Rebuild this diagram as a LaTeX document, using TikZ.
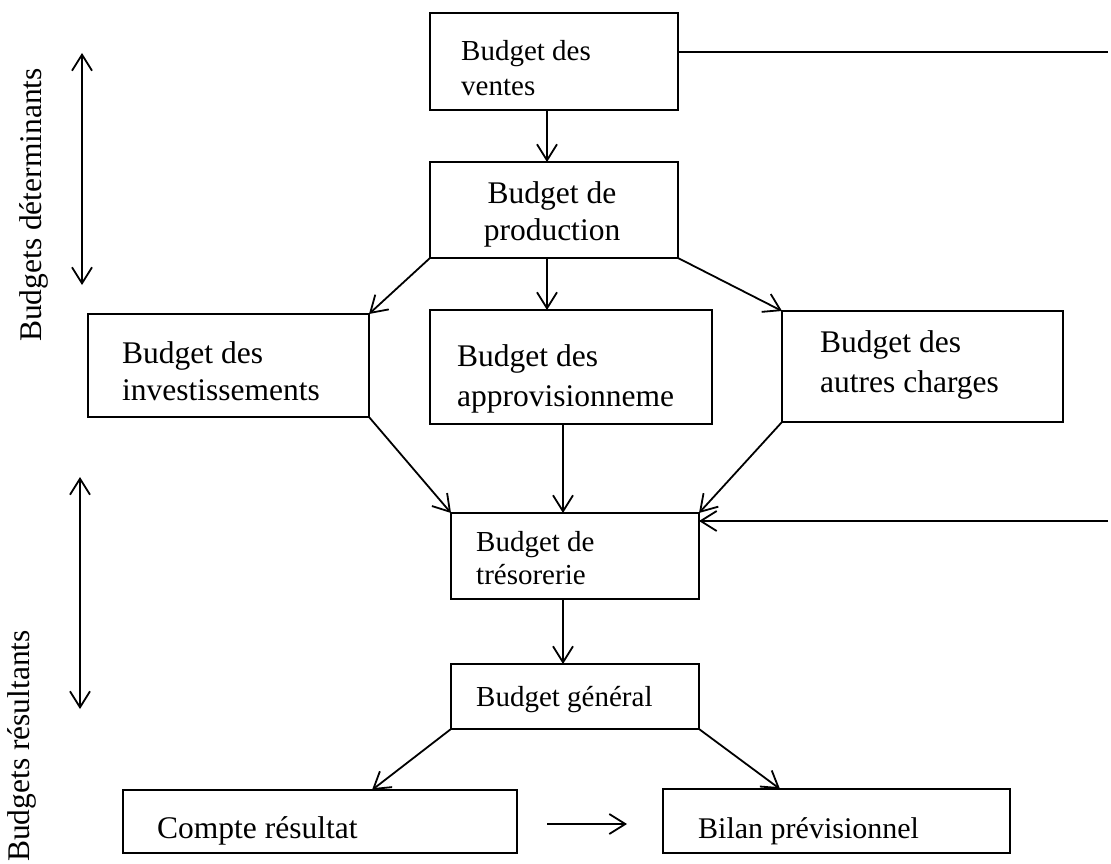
\documentclass[tikz,border=0pt]{standalone}
\usepackage{fontspec}
\setmainfont{Liberation Serif}
\usetikzlibrary{arrows.meta,calc}
\newcommand\setfs[2]{\fontsize{#1}{#2}\selectfont}
\begin{document}
\begin{tikzpicture}[x=1pt,y=-1pt,
  box/.style={draw, line width=2pt, anchor=north west, inner sep=0pt, outer sep=0pt},
  txt/.style={anchor=north west, inner sep=0pt, align=left},
  barb/.tip={Straight Barb[length=16pt,width=20pt,line width=1.8pt]},
  arr/.style={line width=1.8pt, -barb},
  dbl/.style={line width=1.8pt, barb-barb},
  plain/.style={line width=1.8pt}]
\useasboundingbox (0,0) rectangle (1111,864);

% boxes
\node[box, minimum width=248pt, minimum height=97pt]  (ventes) at (430,13) {};
\node[box, minimum width=248pt, minimum height=96pt]  (prod)   at (430,162) {};
\node[box, minimum width=281pt, minimum height=103pt] (inv)    at (88,314) {};
\node[box, minimum width=282pt, minimum height=114pt] (appro)  at (430,310) {};
\node[box, minimum width=281pt, minimum height=111pt] (autres) at (782,311) {};
\node[box, minimum width=248pt, minimum height=86pt]  (tres)   at (451,513) {};
\node[box, minimum width=248pt, minimum height=65pt]  (gen)    at (451,664) {};
\node[box, minimum width=394pt, minimum height=63pt]  (compte) at (123,790) {};
\node[box, minimum width=347pt, minimum height=64pt]  (bilan)  at (663,789) {};

% texts
\node[txt, font=\setfs{29}{35}] (tventes) at (461,35.5) {\strut Budget des\\\strut ventes};
\node[anchor=north, inner sep=0pt, align=center, font=\setfs{31.5}{37}] (tprod) at (552,177.1) {\strut Budget de\\\strut production};
\node[txt, font=\setfs{31.5}{37}] (tinv) at (122,337.1) {\strut Budget des\\\strut investissements};
\node[txt, font=\setfs{31.5}{40}] (tappro) at (457,338) {\strut Budget des\\\strut approvisionneme};
\node[txt, font=\setfs{31.5}{40}] (tautres) at (820,324) {\strut Budget des\\\strut autres charges};
\node[txt, font=\setfs{29}{33}] (ttres) at (476,527.9) {\strut Budget de\\\strut trésorerie};
\node[anchor=base west, inner sep=0pt, font=\setfs{29}{35}] (tgen) at (476,706) {Budget général};
\node[anchor=base west, inner sep=0pt, font=\setfs{31.5}{37}] (tcompte) at (157,838) {Compte résultat};
\node[anchor=base west, inner sep=0pt, font=\setfs{30}{36}] (tbilan) at (698,838) {Bilan prévisionnel};

% side labels
\node[rotate=90, inner sep=0pt, font=\setfs{31.5}{37}] (lab1) at (34,205) {Budgets déterminants};
\node[rotate=90, inner sep=0pt, font=\setfs{31.5}{37}] (lab2) at (22,746) {Budgets résultants};

% coordinates for free ends
\coordinate (d1a) at (82,53);
\coordinate (d1b) at (82,285);
\coordinate (d2a) at (80,477);
\coordinate (d2b) at (80,709);
\coordinate (vline) at (1108,52);
\coordinate (tline) at (1108,521);
\coordinate (a1) at (547,0);
\coordinate (a2) at (563,0);
\coordinate (gl) at (372,0);
\coordinate (gr) at (780,0);
\coordinate (hz1) at (547,824);
\coordinate (hz2) at (627,824);

% connectors
\draw[plain] (ventes.east |- vline) -- (vline);
\draw[arr] (ventes.south -| a1) -- (prod.north -| a1);
\draw[arr] (prod.south -| a1) -- (appro.north -| a1);
\draw[arr] (prod.south west) -- (inv.north east);
\draw[arr] (prod.south east) -- (autres.north west);
\draw[arr] (inv.south east) -- (tres.north west);
\draw[arr] (appro.south -| a2) -- (tres.north -| a2);
\draw[arr] (autres.south west) -- (tres.north east);
\draw[arr] (tline) -- (tres.east |- tline);
\draw[arr] (tres.south -| a2) -- (gen.north -| a2);
\draw[arr] (gen.south west) -- (compte.north -| gl);
\draw[arr] (gen.south east) -- (bilan.north -| gr);
\draw[arr] (hz1) -- (hz2);
\draw[dbl] (d1a) -- (d1b);
\draw[dbl] (d2a) -- (d2b);
\end{tikzpicture}
\end{document}
